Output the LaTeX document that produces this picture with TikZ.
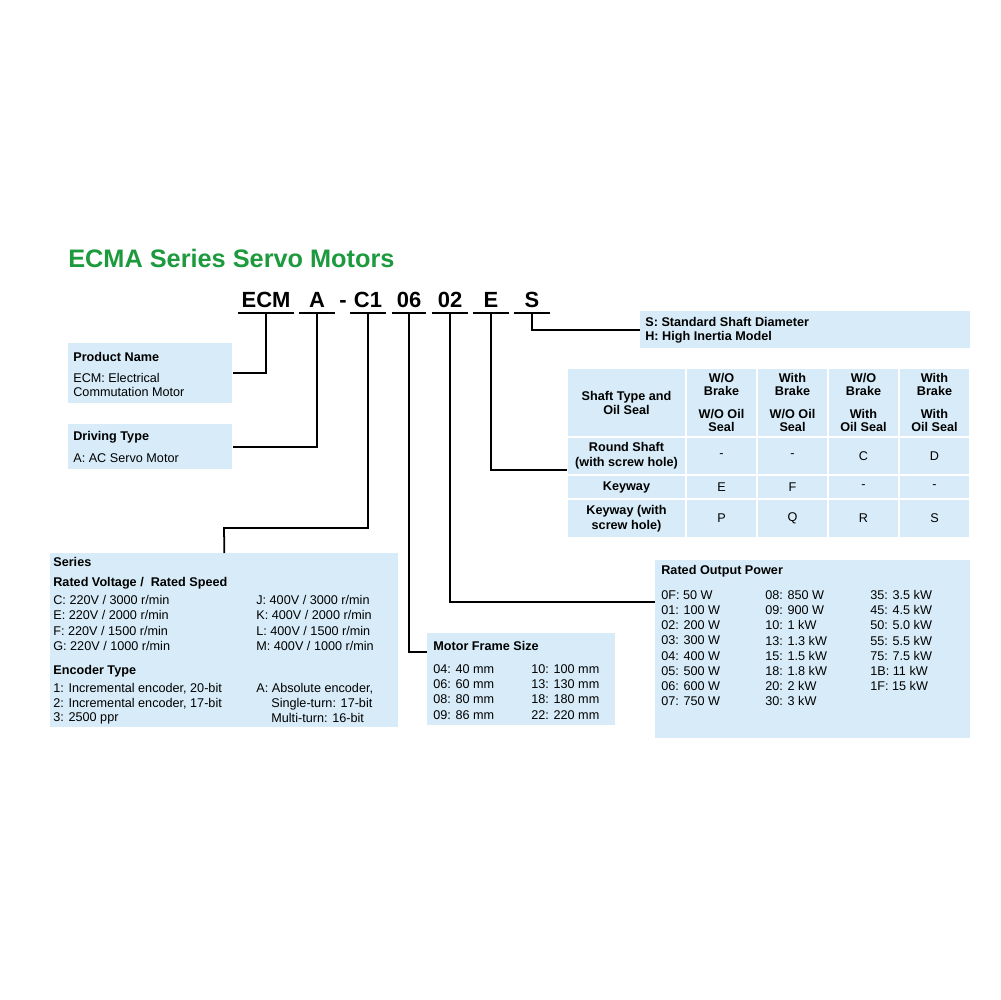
\documentclass[tikz,border=0pt]{standalone}
\usepackage{fontspec}
\setmainfont{Liberation Sans}
\definecolor{boxblue}{HTML}{D7ECF8}
\definecolor{titlegreen}{HTML}{1E9A3E}
\def\px{0.02cm}
\tikzset{
  panel/.style={fill=boxblue, draw=none, anchor=north west, inner sep=0pt},
  txt/.style={anchor=west, inner sep=0pt, font=\fontsize{7.2}{8}\selectfont},
  head/.style={txt, font=\fontsize{7.2}{8}\selectfont\bfseries},
  code/.style={font=\fontsize{12.5}{14}\selectfont\bfseries, inner sep=0pt, minimum height=26*\px},
  cell/.style={fill=boxblue, draw=white, line width=1.2pt},
  ctxt/.style={align=center, inner sep=0pt, font=\fontsize{7.2}{8.4}\selectfont},
  link/.style={line width=1pt, black},
}
\begin{document}
\begin{tikzpicture}[x=0.02cm, y=-0.02cm]
  \useasboundingbox (0,0) rectangle (1000,1000);

  \node[anchor=west, inner sep=0pt, text=titlegreen, font=\fontsize{14.4}{17}\selectfont\bfseries] (title) at (68,258) {ECMA Series Servo Motors};

  % model code
  \node[code, minimum width=56*\px] (ecm) at (266,300) {ECM};
  \node[code, minimum width=36*\px] (a) at (317,300) {A};
  \node[code] (dash) at (343,304) {-};
  \node[code, minimum width=36*\px] (c1) at (368,300) {C1};
  \node[code, minimum width=34*\px] (f06) at (409,300) {06};
  \node[code, minimum width=36*\px] (f02) at (450,300) {02};
  \node[code, minimum width=36*\px] (e) at (491,300) {E};
  \node[code, minimum width=36*\px] (s) at (532,300) {S};
  \foreach \n in {ecm,a,c1,f06,f02,e,s}
    \draw[line width=1.2pt] (\n.south west) -- (\n.south east);

  % boxes
  \node[panel, minimum width=164*\px, minimum height=60*\px] (prod) at (68,343) {};
  \node[head] at (73,357) {Product Name};
  \node[txt] at (73,378) {ECM: Electrical};
  \node[txt] at (73,392) {Commutation Motor};

  \node[panel, minimum width=164*\px, minimum height=45*\px] (drive) at (68,424) {};
  \node[head] at (73,437) {Driving Type};
  \node[txt] at (73,458) {A: AC Servo Motor};

  \node[panel, minimum width=348*\px, minimum height=174*\px] (series) at (50,553) {};
  \node[head] at (53,562) {Series};
  \node[head] at (53,583) {Rated Voltage /\ \ Rated Speed};
  \foreach \l/\r [count=\i from 0] in {{C: 220V / 3000 r/min}/{J: 400V / 3000 r/min},
      {E: 220V / 2000 r/min}/{K: 400V / 2000 r/min},
      {F: 220V / 1500 r/min}/{L: 400V / 1500 r/min},
      {G: 220V / 1000 r/min}/{M: 400V / 1000 r/min}} {
    \node[txt] at (53,600+15.3*\i) {\l};
    \node[txt] at (256,600+15.3*\i) {\r};
  }
  \node[head] at (53,671) {Encoder Type};
  \node[txt] at (53,689) {1: Incremental encoder, 20-bit};
  \node[txt] at (53,704) {2: Incremental encoder, 17-bit};
  \node[txt] at (53,718) {3: 2500 ppr};
  \node[txt] at (256,689) {A: Absolute encoder,};
  \node[txt] at (271,704) {Single-turn: 17-bit};
  \node[txt] at (271,718) {Multi-turn: 16-bit};

  \node[panel, minimum width=188*\px, minimum height=92*\px] (frame) at (427,633) {};
  \node[head] at (433,646) {Motor Frame Size};
  \foreach \l/\r [count=\i from 0] in {04: 40 mm/10: 100 mm, 06: 60 mm/13: 130 mm,
      08: 80 mm/18: 180 mm, 09: 86 mm/22: 220 mm} {
    \node[txt] at (433,669+15.3*\i) {\l};
    \node[txt] at (531,669+15.3*\i) {\r};
  }

  \node[panel, minimum width=315*\px, minimum height=178*\px] (power) at (655,560) {};
  \node[head] at (661,571) {Rated Output Power};
  \foreach \a/\b/\c [count=\i from 0] in {0F: 50 W/08: 850 W/35: 3.5 kW,
      01: 100 W/09: 900 W/45: 4.5 kW, 02: 200 W/10: 1 kW/50: 5.0 kW,
      03: 300 W/13: 1.3 kW/55: 5.5 kW, 04: 400 W/15: 1.5 kW/75: 7.5 kW,
      05: 500 W/18: 1.8 kW/1B: 11 kW, 06: 600 W/20: 2 kW/1F: 15 kW,
      07: 750 W/30: 3 kW/} {
    \node[txt] at (661,595+15.2*\i) {\a};
    \node[txt] at (765,595+15.2*\i) {\b};
    \node[txt] at (870,595+15.2*\i) {\c};
  }

  \node[panel, minimum width=330*\px, minimum height=37*\px] (sbox) at (640,311) {};
  \node[head] at (645,322) {S: Standard Shaft Diameter};
  \node[head] at (645,337) {H: High Inertia Model};

  % shaft table
  \foreach \ya/\yb [count=\r] in {368/437, 437/475, 475/499, 499/538}
    \foreach \xa/\xb in {567/686, 686/757, 757/828, 828/899, 899/970}
      \draw[cell] (\xa,\ya) rectangle (\xb,\yb);
  \node[ctxt, font=\fontsize{7.2}{8.4}\selectfont\bfseries] (thead) at (626.5,403) {Shaft Type and\\Oil Seal};
  \foreach \t [count=\i from 0] in {W/O\\Brake\\[5pt]W/O Oil\\Seal, With\\Brake\\[5pt]W/O Oil\\Seal,
      W/O\\Brake\\[5pt]With\\Oil Seal, With\\Brake\\[5pt]With\\Oil Seal}
    \node[ctxt, font=\fontsize{7.2}{7.6}\selectfont\bfseries] at (721.5+71*\i,402.5) {\t};
  \node[ctxt, font=\fontsize{7.2}{8.4}\selectfont\bfseries] (round) at (626.5,456) {Round Shaft\\(with screw hole)};
  \node[ctxt, font=\fontsize{7.2}{8.4}\selectfont\bfseries] (key) at (626.5,487) {Keyway};
  \node[ctxt, font=\fontsize{7.2}{8.4}\selectfont\bfseries] (keyh) at (626.5,518.5) {Keyway (with\\screw hole)};
  \foreach \p/\q/\u [count=\i from 0] in {-/E/P, -/F/Q, C/-/R, D/-/S} {
    \node[ctxt] at (721.5+71*\i,456) {\p};
    \node[ctxt] at (721.5+71*\i,487) {\q};
    \node[ctxt] at (721.5+71*\i,518.5) {\u};
  }
  \coordinate (tableIn) at (567,470);

  % connectors
  \coordinate (kink) at (224,528);
  \coordinate (frameIn) at (427,652);
  \coordinate (powerIn) at (655,602);
  \draw[link] (ecm.south) |- (prod.east);
  \draw[link] (a.south) |- (drive.east);
  \draw[link] (c1.south) |- (kink) -- (series.north);
  \draw[link] (f06.south) |- (frameIn);
  \draw[link] (f02.south) |- (powerIn);
  \draw[link] (e.south) |- (tableIn);
  \draw[link] (s.south) |- (sbox.west);
\end{tikzpicture}
\end{document}
